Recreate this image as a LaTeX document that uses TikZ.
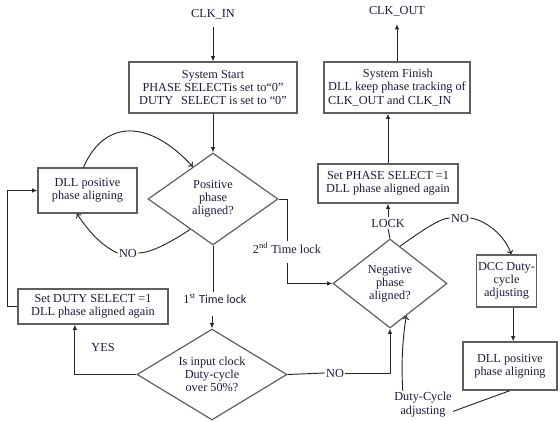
\documentclass[tikz,border=0pt]{standalone}
\usepackage{fontspec}
\setmainfont{Liberation Serif}
\newfontfamily\calfont{Carlito}
\usetikzlibrary{shapes.geometric,arrows.meta}
\definecolor{boxgray}{RGB}{95,95,95}
\definecolor{inkblue}{RGB}{30,25,60}

\begin{document}
\begin{tikzpicture}[x=0.75pt,y=-0.75pt,
    font=\fontsize{9.2}{9.8}\selectfont,text=inkblue,
    block/.style={draw=boxgray,line width=0.9pt,align=center,inner sep=1pt},
    decision/.style={draw=boxgray,line width=0.9pt,diamond,aspect=1.3,inner sep=0pt,align=center},
    lbl/.style={inner sep=1pt},
    link/.style={line width=0.7pt,black!85},
    flow/.style={link,-{Latex[length=4pt,width=3.4pt]}},
    loose/.style={link,-{To[length=3pt,width=5pt]}}]
  \useasboundingbox (0,0) rectangle (560,421);
  % terminals
  \node[lbl] (clkin) at (213,14) {CLK\_IN};
  \node[lbl] (clkout) at (397,11) {CLK\_OUT};
  % boxes
  \node[block,minimum width=126pt,minimum height=38.25pt] (start) at (213,87.5)
    {System Start\\PHASE SELECTis set to``0''\\\rlap{DUTY}\phantom{PHASE} SELECT is set to ``0''};
  \node[block,minimum width=109.5pt,minimum height=38.25pt,align=left] (finish) at (397,87.5)
    {\hspace*{26pt}System Finish\\DLL keep phase tracking of\\CLK\_OUT and CLK\_IN};
  \node[block,minimum width=105pt,minimum height=29.25pt] (setphase) at (388,183.5)
    {Set PHASE SELECT =1\\DLL phase aligned again};
  \node[block,minimum width=74.25pt,minimum height=33.75pt] (dllpos) at (87.5,190.5)
    {DLL positive\\phase aligning};
  \node[block,minimum width=112.5pt,minimum height=26.25pt] (setduty) at (93,306.5)
    {Set DUTY SELECT =1\\DLL phase aligned again};
  \node[block,minimum width=39.75pt,minimum height=39pt] (dcc) at (506.5,281)
    {DCC Duty-\\cycle\\adjusting};
  \node[block,minimum width=70.5pt,minimum height=36pt] (dllneg) at (510,366)
    {DLL positive\\phase aligning};
  % decisions
  \node[decision,minimum width=97.5pt,minimum height=69pt] (posd) at (213,199)
    {Positive\\phase\\aligned?};
  \node[decision,minimum width=112.5pt,minimum height=68.25pt] (isd) at (212,374.5)
    {Is input clock\\Duty-cycle\\over 50\%?};
  \node[decision,minimum width=85.5pt,minimum height=66.75pt] (negd) at (390,283.5)
    {Negative\\phase\\aligned?};
  % edge labels
  \node[lbl] (no1) at (128,253) {NO};
  \node[lbl] (yes) at (103,347) {YES};
  \node[lbl] (no2) at (460,218) {NO};
  \node[lbl] (no3) at (335,373) {NO};
  \node[lbl] (lock) at (388,223) {LOCK};
  \node[lbl] (tl1) at (215,299) {1\textsuperscript{st} {\calfont Time lock}};
  \node[lbl] (tl2) at (287,248) {2\textsuperscript{nd} Time lock};
  \node[lbl,align=center,font=\fontsize{9.2}{10.5}\selectfont] (dutyadj) at (423,405) {Duty-Cycle\\adjusting};
  % straight flow
  \draw[flow,shorten <=5pt] (clkin) -- (start);
  \draw[flow,shorten >=5pt] (finish) -- (clkout);
  \draw[flow] (start) -- (posd);
  \draw[flow] (setphase.north) -- (setphase.north |- finish.south);
  \draw[link] (negd.north) -- (lock.south);
  \draw[flow] (lock) -- (setphase);
  \draw[link] (posd.east) -| (tl2.north);
  \draw[flow,shorten <=6pt] (tl2.south) |- (negd.west);
  \draw[link] (posd.south) -- (posd.south |- tl1.north);
  \draw[flow,shorten <=8pt] (isd.north |- tl1.south) -- (isd.north);
  \draw[flow] (isd.west) -| (setduty.225);
  \draw[link] (isd.east) -- (no3.west);
  \draw[flow] (no3.east) -| (negd.south);
  \draw[flow] (setduty.west) -- ++(-10,0) |- (dllpos.west);
  \draw[flow] ([xshift=5pt]dcc.south) -- ([xshift=5pt]dcc.south |- dllneg.north);
  % curved loops
  \draw[loose] (dllpos.100) .. controls (105,118) and (150,120) .. (posd.122);
  \draw[link] (posd.233) .. controls (170,243) and (150,253) .. (no1.east);
  \draw[loose] (no1.west) .. controls (100,245) and (88,230) .. (dllpos.245);
  \draw[link] (negd.75) .. controls (420,232) and (440,218) .. (no2.west);
  \draw[loose] (no2.east) .. controls (485,220) and (505,235) .. (dcc.80);
  \draw[link] (dllneg.south) .. controls (490,398) and (470,405) .. (dutyadj.-12);
  \draw[loose] (dutyadj.145) .. controls (401,360) and (403,335) .. (negd.297);
\end{tikzpicture}
\end{document}
